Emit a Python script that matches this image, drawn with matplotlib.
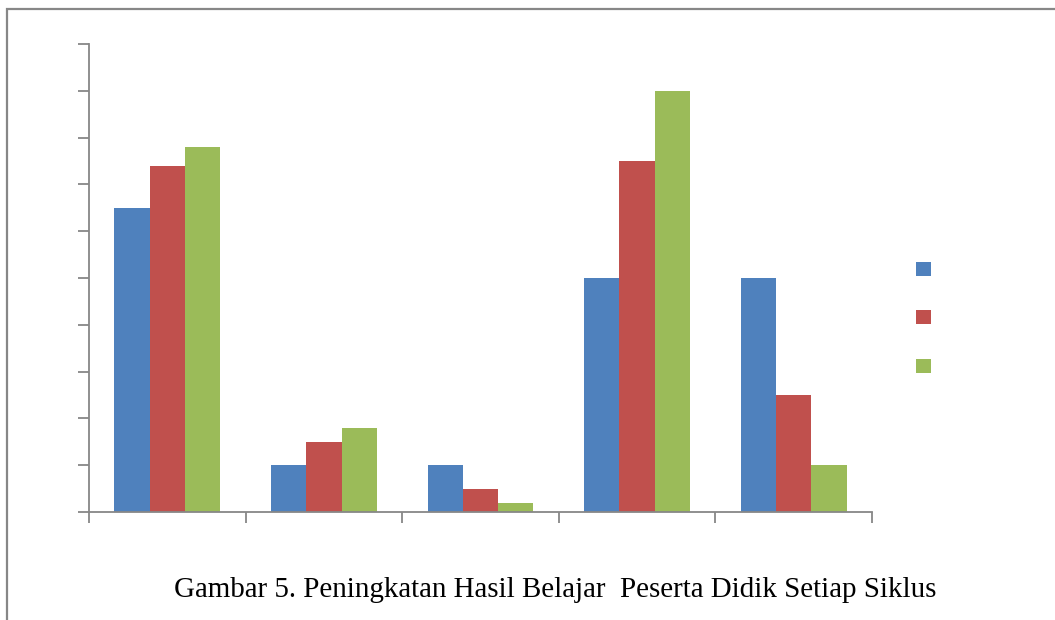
import numpy as np
import matplotlib.pyplot as plt
from matplotlib.patches import Patch, Rectangle

# nilai tiap kategori untuk tiga siklus
n_kategori = 5
siklus_1 = [6.5, 1.0, 1.0, 5.0, 5.0]
siklus_2 = [7.4, 1.5, 0.5, 7.5, 2.5]
siklus_3 = [7.8, 1.8, 0.2, 9.0, 1.0]
warna = ['#4F81BD', '#C0504D', '#9BBB59']
judul = 'Gambar 5. Peningkatan Hasil Belajar  Peserta Didik Setiap Siklus'

abu = '#878787'

fig = plt.figure(figsize=(10.55, 6.2), dpi=100)

# bingkai luar grafik (terpotong di kanan dan bawah)
fig.patches.append(Rectangle((7 / 1055, -0.05), 1.1, 1 - 9 / 620 + 0.05,
                             transform=fig.transFigure, fill=False,
                             edgecolor=abu, linewidth=1.6))

ax = fig.add_axes([89 / 1055, 1 - 512 / 620, 783 / 1055, 468 / 620])

x = np.arange(n_kategori)
w = 0.225
for i, data in enumerate([siklus_1, siklus_2, siklus_3]):
    ax.bar(x + (i - 1) * w, data, width=w, color=warna[i], linewidth=0)

ax.set_xlim(-0.5, n_kategori - 0.5)
ax.set_ylim(0, 10)
ax.set_yticks(np.arange(0, 11, 1))
ax.set_xticks(np.arange(n_kategori + 1) - 0.5)
ax.set_yticklabels([])
ax.set_xticklabels([])
ax.tick_params(axis='both', direction='out', length=8, width=1.3, color=abu)
for s in ['top', 'right']:
    ax.spines[s].set_visible(False)
for s in ['left', 'bottom']:
    ax.spines[s].set_color(abu)
    ax.spines[s].set_linewidth(1.3)

handles = [Patch(facecolor=c, edgecolor='none') for c in warna]
fig.legend(handles, ['', '', ''], loc='upper left',
           bbox_to_anchor=(903 / 1055, 1 - 249 / 620), frameon=False,
           fontsize=11.3, handlelength=1.0, handleheight=1.0,
           labelspacing=2.12, borderpad=0.3, handletextpad=0.2)

fig.text(555 / 1055, 1 - 590 / 620, judul, ha='center', va='center',
         fontsize=20.9, family='Liberation Serif', color='black')

fig.savefig('out.png', dpi=100)
